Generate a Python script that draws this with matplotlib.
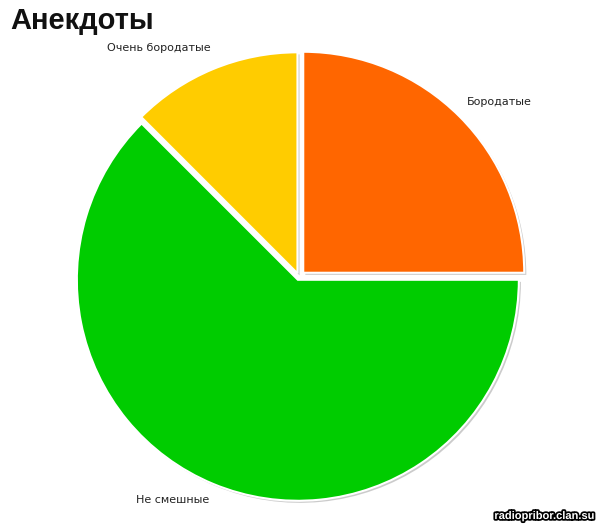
import matplotlib.pyplot as plt
import matplotlib.patheffects as pe

plt.rcParams['font.family'] = ['Liberation Sans', 'DejaVu Sans']

title = 'Анекдоты'
labels = ['Бородатые', 'Не смешные', 'Очень бородатые']
values = [25, 62.5, 12.5]
colors = ['#FF6600', '#00CC00', '#FFCC00']
explode = [6, 3, 4]   # pixels (data units here)

W, H = 600, 529
fig = plt.figure(figsize=(6, 5.29), dpi=100)
ax = fig.add_axes([0, 0, 1, 1])

wedges, texts = ax.pie(values, labels=labels, colors=colors, explode=explode,
                       startangle=90, counterclock=False,
                       center=(299, H - 277), radius=221, frame=True,
                       labeldistance=1.2,
                       wedgeprops=dict(edgecolor='white', linewidth=1.5),
                       textprops=dict(fontsize=8, color='#222222',
                                      family=['DejaVu Sans']))
for w in wedges:
    w.set_path_effects([pe.withSimplePatchShadow(offset=(1.5, -1.5), shadow_rgbFace='#999999', alpha=0.5)])

# label positions as placed in the original
label_pos = [(499, 102), (173, 500), (159, 48)]
for t, (x, y) in zip(texts, label_pos):
    t.set_position((x, H - y))
    t.set_ha('center')
    t.set_va('center')

ax.set_xlim(0, W)
ax.set_ylim(0, H)
ax.set_aspect('equal')
ax.axis('off')

fig.text(10 / W, 1 - 21 / H, title, fontsize=21, fontweight='bold',
         ha='left', va='center', color='#111111')

fig.text(595 / W, 1 - 516 / H, 'radiopribor.clan.su', fontsize=8, fontweight='bold',
         color='white', ha='right', va='center',
         path_effects=[pe.withStroke(linewidth=2.5, foreground='black')])

fig.savefig('out.png', dpi=100)
